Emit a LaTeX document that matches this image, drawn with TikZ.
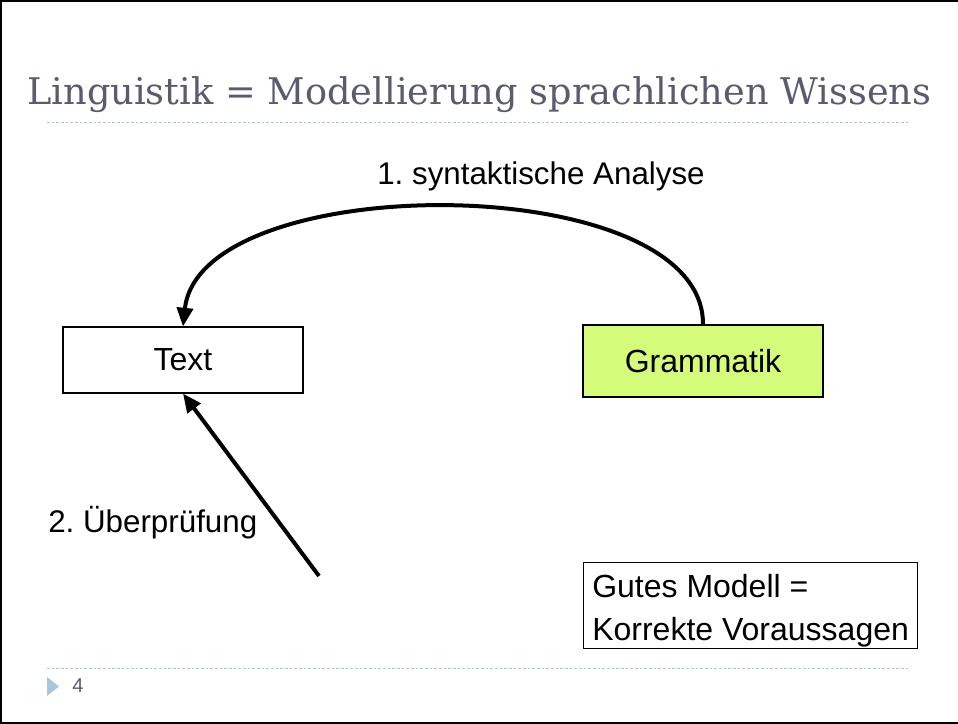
\documentclass[tikz,border=0pt]{standalone}
\usepackage{fontspec}
\setmainfont{Liberation Serif}
\setsansfont{Liberation Sans}
\newfontfamily\titlefont{DejaVu Serif}
\usetikzlibrary{arrows.meta}
\definecolor{titlegray}{HTML}{5B5B6E}
\definecolor{rulecol}{HTML}{A9C6DC}
\definecolor{gramfill}{HTML}{D5FB7B}
\begin{document}
\frenchspacing
\begin{tikzpicture}[x=0.75pt,y=-0.75pt,
  box/.style={draw=black,line width=0.8pt,minimum width=180pt,font=\sffamily\fontsize{24}{28}\selectfont,inner sep=0pt},
  lbl/.style={font=\sffamily\fontsize{23.5}{28}\selectfont,inner sep=0pt},
  bigarrow/.style={line width=3pt,-{Triangle[length=14pt,width=12pt]}},
  rule/.style={rulecol,dash pattern=on 2pt off 1.5pt,line width=0.6pt}]
\useasboundingbox (0,0) rectangle (958,724);
\fill[white] (0,0) rectangle (958,724);
% frame
\draw[line width=2pt] (0,1) -- (958,1);
\draw[line width=1.2pt] (1,0) -- (1,724);
\draw[line width=1.5pt] (0,723) -- (958,723);
% title
\node[anchor=base west,inner sep=0pt,text=titlegray,font=\titlefont\fontsize{24}{28}\selectfont] (title) at (27,105) {\resizebox{678pt}{!}{Linguistik = Modellierung sprachlichen Wissens}};
\draw[rule] (47,122) -- (910,122);
\draw[rule] (47,668) -- (910,668);
\fill[rulecol] (47,677) -- (59,686.5) -- (47,696) -- cycle;
\node[anchor=base west,inner sep=0pt,text=titlegray,font=\sffamily\fontsize{15}{17}\selectfont] (pnum) at (72,692) {4};
% boxes
\node[box,fill=white,minimum height=49.5pt] (text) at (183,360) {Text};
\node[box,fill=gramfill,minimum height=54pt] (gram) at (703,361) {Grammatik};
\node[draw=black,line width=0.8pt,fill=white,minimum width=250.5pt,minimum height=64.5pt,inner sep=0pt,anchor=north west] (model) at (583,562) {};
\node[anchor=base west,inner sep=0pt,align=left,font=\sffamily\fontsize{24}{32}\selectfont] (modeltext) at (592,640) {Gutes Modell =\\Korrekte Voraussagen};
% labels
\node[lbl,anchor=base] (l1) at (541,185) {1. syntaktische Analyse};
\node[lbl,anchor=base west] (l2) at (48,532) {2. Überprüfung};
% arrows
\draw[bigarrow] (gram.north) .. controls (704,168) and (200,168) .. (text.north);
\coordinate (start2) at (319,576);
\draw[bigarrow] (start2) -- (text.south);
\end{tikzpicture}
\end{document}
